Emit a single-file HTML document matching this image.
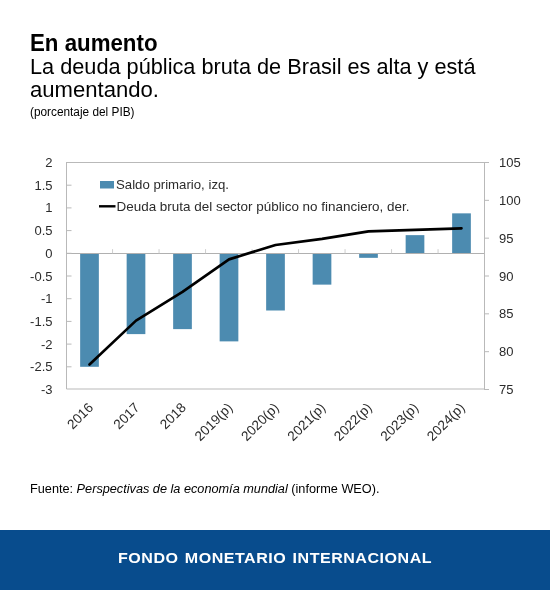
<!DOCTYPE html>
<html><head><meta charset="utf-8"><style>
html,body{margin:0;padding:0;background:#fff;width:550px;height:590px;overflow:hidden}
svg{display:block;will-change:transform}
text{font-family:"Liberation Sans",sans-serif}
.ax{font-size:13px;fill:#2b2b2b}
</style></head><body>
<svg width="550" height="590" viewBox="0 0 550 590">
<rect width="550" height="590" fill="#fff"/>
<text x="30" y="51" font-size="23" font-weight="bold" fill="#000" textLength="127.5" lengthAdjust="spacingAndGlyphs">En aumento</text>
<text x="30" y="74" font-size="22.6" fill="#000" textLength="445.5" lengthAdjust="spacingAndGlyphs">La deuda pública bruta de Brasil es alta y está</text>
<text x="30" y="96.6" font-size="22.6" fill="#000" textLength="129" lengthAdjust="spacingAndGlyphs">aumentando.</text>
<text x="30" y="115.5" font-size="12" fill="#000" textLength="104.5" lengthAdjust="spacingAndGlyphs">(porcentaje del PIB)</text>
<path d="M66.5,162.5 H484.5 V389 H66.5 Z" fill="none" stroke="#b9b9b9" stroke-width="1"/>
<rect x="80.15" y="253.30" width="18.7" height="113.50" fill="#4c8bb0"/>
<rect x="126.65" y="253.30" width="18.7" height="80.81" fill="#4c8bb0"/>
<rect x="173.15" y="253.30" width="18.7" height="75.82" fill="#4c8bb0"/>
<rect x="219.65" y="253.30" width="18.7" height="88.08" fill="#4c8bb0"/>
<rect x="266.15" y="253.30" width="18.7" height="57.20" fill="#4c8bb0"/>
<rect x="312.65" y="253.30" width="18.7" height="31.33" fill="#4c8bb0"/>
<rect x="359.15" y="253.30" width="18.7" height="4.54" fill="#4c8bb0"/>
<rect x="405.65" y="235.14" width="18.7" height="18.16" fill="#4c8bb0"/>
<rect x="452.15" y="213.35" width="18.7" height="39.95" fill="#4c8bb0"/>
<line x1="66" y1="253.45" x2="484" y2="253.45" stroke="#b0b0b0" stroke-width="1.1"/>
<line x1="112.55" y1="249.15" x2="112.55" y2="253.45" stroke="#c8c8c8" stroke-width="0.9"/>
<line x1="159.05" y1="249.15" x2="159.05" y2="253.45" stroke="#c8c8c8" stroke-width="0.9"/>
<line x1="205.55" y1="249.15" x2="205.55" y2="253.45" stroke="#c8c8c8" stroke-width="0.9"/>
<line x1="252.05" y1="249.15" x2="252.05" y2="253.45" stroke="#c8c8c8" stroke-width="0.9"/>
<line x1="298.55" y1="249.15" x2="298.55" y2="253.45" stroke="#c8c8c8" stroke-width="0.9"/>
<line x1="345.05" y1="249.15" x2="345.05" y2="253.45" stroke="#c8c8c8" stroke-width="0.9"/>
<line x1="391.55" y1="249.15" x2="391.55" y2="253.45" stroke="#c8c8c8" stroke-width="0.9"/>
<line x1="438.05" y1="249.15" x2="438.05" y2="253.45" stroke="#c8c8c8" stroke-width="0.9"/>
<line x1="66" y1="162.50" x2="71.5" y2="162.50" stroke="#b9b9b9" stroke-width="1"/>
<text x="52.5" y="167.00" text-anchor="end" class="ax">2</text>
<line x1="66" y1="185.20" x2="71.5" y2="185.20" stroke="#b9b9b9" stroke-width="1"/>
<text x="52.5" y="189.70" text-anchor="end" class="ax">1.5</text>
<line x1="66" y1="207.90" x2="71.5" y2="207.90" stroke="#b9b9b9" stroke-width="1"/>
<text x="52.5" y="212.40" text-anchor="end" class="ax">1</text>
<line x1="66" y1="230.60" x2="71.5" y2="230.60" stroke="#b9b9b9" stroke-width="1"/>
<text x="52.5" y="235.10" text-anchor="end" class="ax">0.5</text>
<line x1="66" y1="253.30" x2="71.5" y2="253.30" stroke="#b9b9b9" stroke-width="1"/>
<text x="52.5" y="257.80" text-anchor="end" class="ax">0</text>
<line x1="66" y1="276.00" x2="71.5" y2="276.00" stroke="#b9b9b9" stroke-width="1"/>
<text x="52.5" y="280.50" text-anchor="end" class="ax">-0.5</text>
<line x1="66" y1="298.70" x2="71.5" y2="298.70" stroke="#b9b9b9" stroke-width="1"/>
<text x="52.5" y="303.20" text-anchor="end" class="ax">-1</text>
<line x1="66" y1="321.40" x2="71.5" y2="321.40" stroke="#b9b9b9" stroke-width="1"/>
<text x="52.5" y="325.90" text-anchor="end" class="ax">-1.5</text>
<line x1="66" y1="344.10" x2="71.5" y2="344.10" stroke="#b9b9b9" stroke-width="1"/>
<text x="52.5" y="348.60" text-anchor="end" class="ax">-2</text>
<line x1="66" y1="366.80" x2="71.5" y2="366.80" stroke="#b9b9b9" stroke-width="1"/>
<text x="52.5" y="371.30" text-anchor="end" class="ax">-2.5</text>
<text x="52.5" y="394.00" text-anchor="end" class="ax">-3</text>
<line x1="484" y1="162.50" x2="489" y2="162.50" stroke="#b9b9b9" stroke-width="1"/>
<text x="499" y="167.00" class="ax">105</text>
<line x1="484" y1="200.34" x2="489" y2="200.34" stroke="#b9b9b9" stroke-width="1"/>
<text x="499" y="204.84" class="ax">100</text>
<line x1="484" y1="238.17" x2="489" y2="238.17" stroke="#b9b9b9" stroke-width="1"/>
<text x="499" y="242.67" class="ax">95</text>
<line x1="484" y1="276.00" x2="489" y2="276.00" stroke="#b9b9b9" stroke-width="1"/>
<text x="499" y="280.50" class="ax">90</text>
<line x1="484" y1="313.84" x2="489" y2="313.84" stroke="#b9b9b9" stroke-width="1"/>
<text x="499" y="318.34" class="ax">85</text>
<line x1="484" y1="351.68" x2="489" y2="351.68" stroke="#b9b9b9" stroke-width="1"/>
<text x="499" y="356.18" class="ax">80</text>
<line x1="484" y1="389.51" x2="489" y2="389.51" stroke="#b9b9b9" stroke-width="1"/>
<text x="499" y="394.01" class="ax">75</text>
<polyline points="89.50,364.54 136.00,320.65 182.50,291.90 229.00,259.36 275.50,244.98 322.00,238.93 368.50,231.36 415.00,229.85 461.50,228.33" fill="none" stroke="#000" stroke-width="2.65" stroke-linejoin="round" stroke-linecap="round"/>
<rect x="100" y="181" width="14" height="7.5" fill="#4c8bb0"/>
<text x="116" y="188.8" class="ax" textLength="113" lengthAdjust="spacingAndGlyphs">Saldo primario, izq.</text>
<line x1="99" y1="206.3" x2="115.5" y2="206.3" stroke="#000" stroke-width="2.4"/>
<text x="116.5" y="210.6" class="ax" textLength="293" lengthAdjust="spacingAndGlyphs">Deuda bruta del sector público no financiero, der.</text>
<text transform="translate(94.02,408.5) rotate(-45)" text-anchor="end" class="ax" style="font-size:13.6px">2016</text>
<text transform="translate(140.47,408.5) rotate(-45)" text-anchor="end" class="ax" style="font-size:13.6px">2017</text>
<text transform="translate(186.91,408.5) rotate(-45)" text-anchor="end" class="ax" style="font-size:13.6px">2018</text>
<text transform="translate(233.36,408.5) rotate(-45)" text-anchor="end" class="ax" style="font-size:13.6px">2019(p)</text>
<text transform="translate(279.80,408.5) rotate(-45)" text-anchor="end" class="ax" style="font-size:13.6px">2020(p)</text>
<text transform="translate(326.24,408.5) rotate(-45)" text-anchor="end" class="ax" style="font-size:13.6px">2021(p)</text>
<text transform="translate(372.69,408.5) rotate(-45)" text-anchor="end" class="ax" style="font-size:13.6px">2022(p)</text>
<text transform="translate(419.13,408.5) rotate(-45)" text-anchor="end" class="ax" style="font-size:13.6px">2023(p)</text>
<text transform="translate(465.58,408.5) rotate(-45)" text-anchor="end" class="ax" style="font-size:13.6px">2024(p)</text>
<text x="30" y="492.7" font-size="12.5" fill="#000" textLength="349.5" lengthAdjust="spacingAndGlyphs">Fuente: <tspan font-style="italic">Perspectivas de la economía mundial</tspan> (informe WEO).</text>
<rect x="0" y="530" width="550" height="60" fill="#084c8d"/>
<text transform="translate(118,562.7) scale(1.1,1)" font-size="14.6" font-weight="bold" fill="#fff" letter-spacing="0.47" word-spacing="1.2">FONDO MONETARIO INTERNACIONAL</text>
</svg>
</body></html>
